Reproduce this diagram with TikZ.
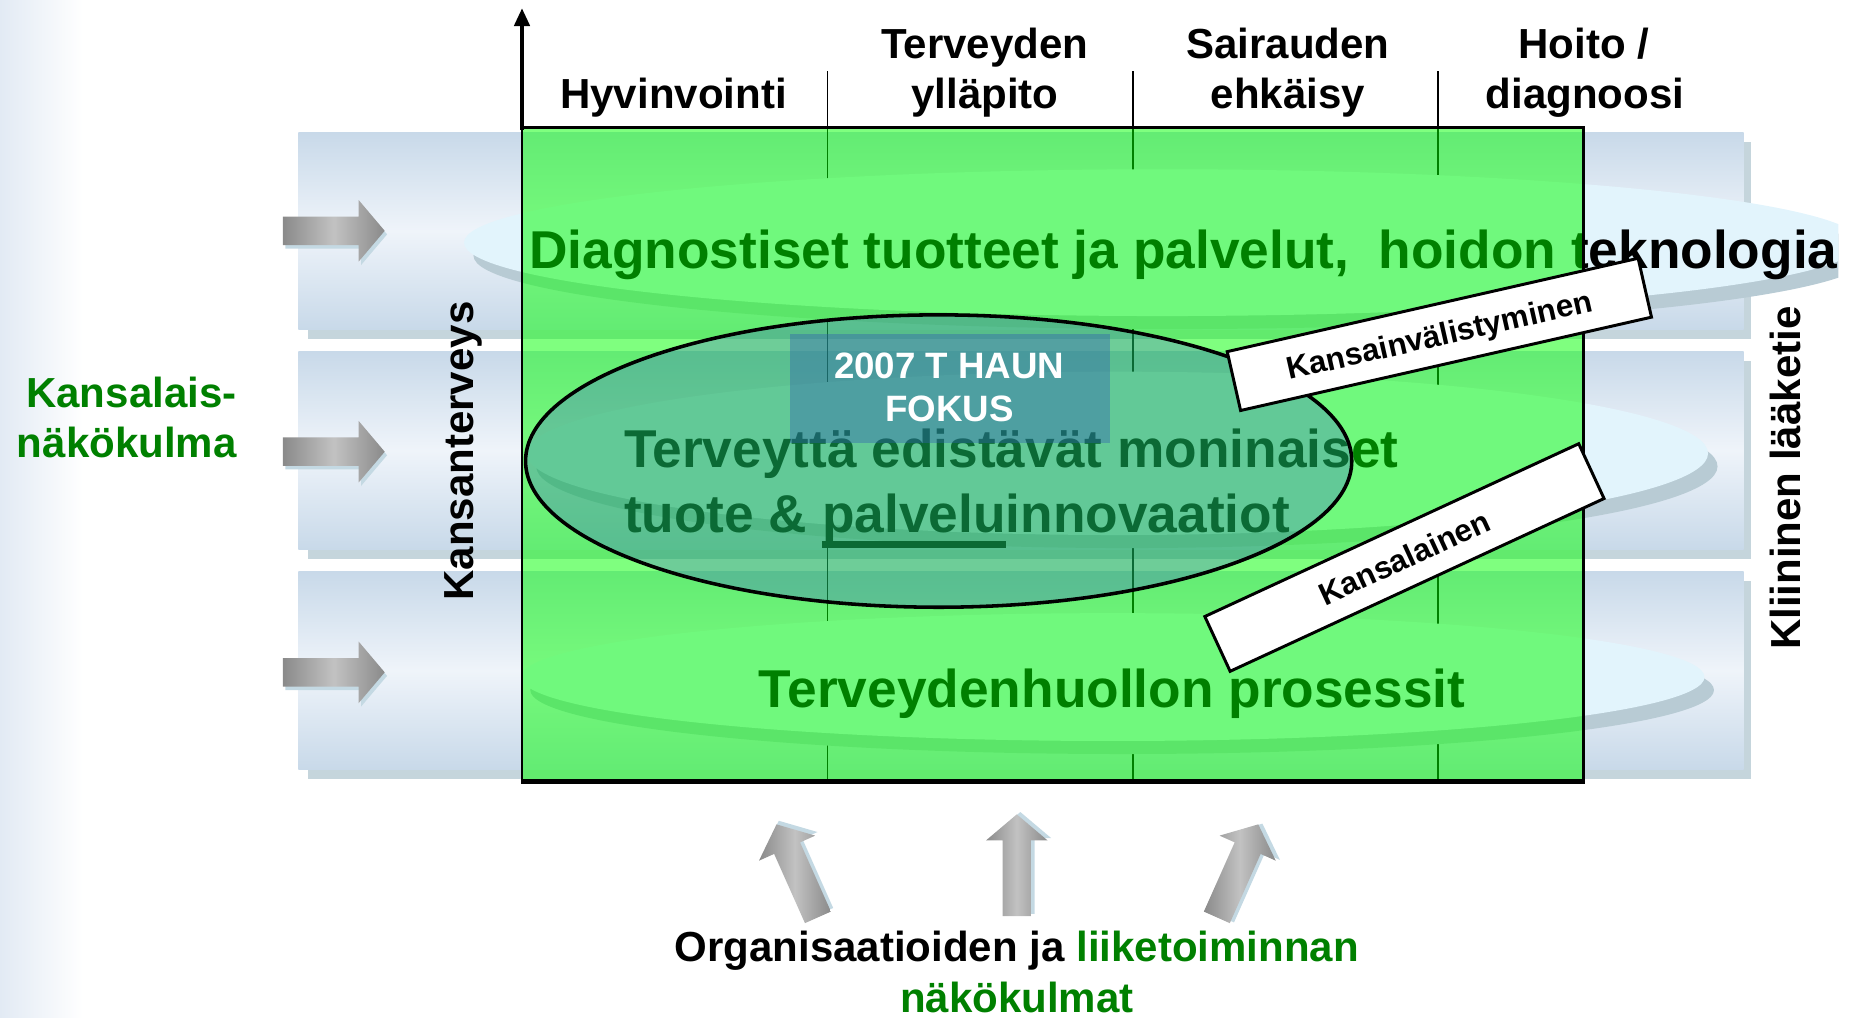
\documentclass[tikz,border=0pt]{standalone}
\usepackage{fontspec}
\setmainfont{Liberation Sans}
\usetikzlibrary{arrows.meta}
\definecolor{bandA}{HTML}{C8D9E9}
\definecolor{bandB}{HTML}{EFF4FA}
\definecolor{bandS}{HTML}{C5D5DC}
\definecolor{diskF}{HTML}{E2F4FC}
\definecolor{diskS}{HTML}{B8CBD4}
\definecolor{kgreen}{HTML}{008000}
\definecolor{veil}{HTML}{3320F5}
\definecolor{fokus}{HTML}{3060B0}
\definecolor{arrD}{HTML}{8A8A8A}
\definecolor{arrL}{HTML}{C2C2C2}
\definecolor{arrS}{HTML}{C4D9E3}
\definecolor{bgL}{HTML}{E2EAF4}
\newcommand{\bigt}{\fontsize{45}{54}\selectfont\bfseries}
\newcommand{\midt}{\fontsize{35.5}{42}\selectfont\bfseries}
\newcommand{\tagt}{\fontsize{26.5}{30}\selectfont\bfseries}
\newcommand{\fokt}{\fontsize{31}{36}\selectfont\bfseries}
\newcommand{\undl}[1]{\setbox0=\hbox{#1}\rlap{\rule[-12.8pt]{\wd0}{5.6pt}}#1}

\tikzset{
  band/.style={top color=bandA, bottom color=bandA, middle color=bandB},
  along/.style={left color=arrD, right color=arrD, middle color=arrL},
  big/.style={font=\bigt, inner sep=0pt, anchor=base west},
  head/.style={font=\midt, inner sep=0pt, anchor=base},
  tag/.style={draw, line width=2.5pt, fill=white, font=\tagt, inner sep=0pt,
    minimum height=51pt, text height=19pt, text depth=0pt},
  garrow/.pic={
    \fill[arrS, shift={(2,3)}] (0,-12) -- (64,-12) -- (64,-26) -- (86,0) -- (64,26) -- (64,12) -- (0,12) -- cycle;
    \shade[along] (0,-12) -- (64,-12) -- (64,-26) -- (86,0) -- (64,26) -- (64,12) -- (0,12) -- cycle;
  }
}

\begin{document}
\begin{tikzpicture}[x=1pt,y=-1pt]
\useasboundingbox (0,0) rectangle (1568,860);
\shade[left color=bgL, right color=white] (0,0) rectangle (70,860);

\foreach \yt/\yb in {112/278, 297/464, 483/650} {
  \fill[bandS] (260,\yt+8) rectangle (1479,\yb+8);
  \shade[band] (252,\yt) rectangle (1473,\yb);
}
\foreach \x in {699,957,1215}
  \draw[line width=1.3pt] (\x,60) -- (\x,660);

\begin{scope}
\clip (0,0) rectangle (1553,860);
\foreach \cx/\cy/\rx/\ry in {982/205/590/62, 944/383/499/69, 940/572/500/54} {
  \fill[diskS] (\cx+8,\cy+11) ellipse [x radius=\rx pt, y radius=\ry pt];
  \fill[diskF] (\cx,\cy) ellipse [x radius=\rx pt, y radius=\ry pt];
}
\end{scope}

\node[big] (diag) at (447,227) {Diagnostiset tuotteet ja palvelut,~ hoidon teknologia};
\node[big] (terv1) at (527,395) {Terveyttä edistävät moninaiset};
\node[big] (terv2) at (527,450) {tuote \& \undl{palvelu}innovaatiot};
\node[big] (proc) at (641,598) {Terveydenhuollon prosessit};

\draw[line width=2.5pt, fill=green, fill opacity=0.5] (441,108) rectangle (1338,660);
\draw[line width=4.5pt] (440,660) -- (1339,660);

\draw[line width=3pt, fill=veil, fill opacity=0.22] (793,389.5) ellipse [x radius=349pt, y radius=123.5pt];
\fill[fokus, opacity=0.4] (667,282) rectangle (938,374);
\node[font=\fokt, text=white, inner sep=0pt, anchor=base] (haku) at (802,320) {2007 T HAUN};
\node[font=\fokt, text=white, inner sep=0pt, anchor=base] (fokus) at (802,356.5) {FOKUS};

\node[tag, rotate=12.8, minimum width=356pt] (intl) at (1216,282.5) {Kansainvälistyminen};
\node[tag, rotate=24.8, minimum width=348pt] (citizen) at (1186.5,471) {Kansalainen};

\draw[line width=3pt, -{Triangle[width=13pt,length=15pt]}] (441,110) -- (441,7);

\node[head] (h1) at (569,91.5) {Hyvinvointi};
\node[head] (h2a) at (832,49.3) {Terveyden};
\node[head] (h2b) at (832,91.5) {ylläpito};
\node[head] (h3a) at (1088,49.3) {Sairauden};
\node[head] (h3b) at (1088,91.5) {ehkäisy};
\node[head] (h4a) at (1338,49.3) {Hoito /};
\node[head] (h4b) at (1339,91.5) {diagnoosi};

\node[head, rotate=90] (public) at (400,381) {Kansanterveys};
\node[head, rotate=90] (clinic) at (1521,404) {Kliininen lääketie};
\node[head, anchor=base east, text=kgreen] (citA) at (200,344) {Kansalais-};
\node[head, anchor=base east, text=kgreen] (citB) at (200,386.5) {näkökulma};

\node[head] (orgA) at (859,812) {Organisaatioiden ja \textcolor{kgreen}{liiketoiminnan}};
\node[head, text=kgreen] (orgB) at (859,855) {näkökulmat};

\foreach \y in {195,381.6,568}
  \pic at (239,\y) {garrow};
\pic[rotate=114] at (691,775) {garrow};
\pic[rotate=90] at (859,774) {garrow};
\pic[rotate=66] at (1028,775) {garrow};
\end{tikzpicture}
\end{document}
